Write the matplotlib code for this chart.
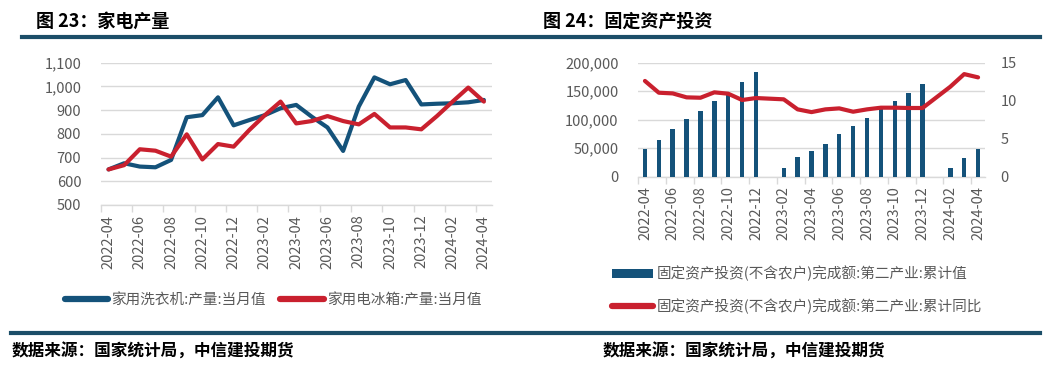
import numpy as np
import matplotlib
matplotlib.use("Agg")
import matplotlib.pyplot as plt
from matplotlib.lines import Line2D
from matplotlib.patches import Patch

plt.rcParams['font.family'] = ['Noto Sans CJK SC', 'DejaVu Sans']

# ---------------- data ----------------
months = ["2022-04", "2022-05", "2022-06", "2022-07", "2022-08", "2022-09", "2022-10",
          "2022-11", "2022-12", "2023-01", "2023-02", "2023-03", "2023-04", "2023-05",
          "2023-06", "2023-07", "2023-08", "2023-09", "2023-10", "2023-11", "2023-12",
          "2024-01", "2024-02", "2024-03", "2024-04"]

washer = [650, 676, 662, 659, 690, 870, 879, 954, 836, 858, 879, 908, 922, 872,
          827, 728, 915, 1038, 1009, 1027, 924, 927, 929, 933, 943]
fridge = [650, 668, 735, 729, 704, 798, 692, 757, 746, 816, 879, 936, 844, 854,
          875, 854, 840, 884, 827, 827, 819, 875, 936, 995, 936]

invest = [48000, 64300, 84200, 101200, 115800, 132200, 143300, 165500, 183600, np.nan,
          15800, 33900, 45000, 57900, 74300, 88900, 102300, 118100, 132200, 147400,
          162000, np.nan, 15800, 32700, 48000]
invest_yoy = [12.6, 11.05, 10.96, 10.44, 10.39, 11.1, 10.92, 10.09, 10.35, np.nan,
              10.18, 8.86, 8.5, 8.86, 8.99, 8.55, 8.86, 9.08, 9.08, 9.04, 9.04, np.nan,
              11.84, 13.5, 13.07]

left_title = "图 23：家电产量"
right_title = "图 24：固定资产投资"
source = "数据来源：国家统计局，中信建投期货"
left_labels = ["家用洗衣机:产量:当月值", "家用电冰箱:产量:当月值"]
right_labels = ["固定资产投资(不含农户)完成额:第二产业:累计值",
                "固定资产投资(不含农户)完成额:第二产业:累计同比"]

# ---------------- style ----------------
W, H = 1046, 374
BLUE = '#14527A'
RED = '#C9202E'
DARK = '#1B4E68'
GRID = '#D9D9D9'
TXT = '#595959'
FS = 10.5

fig = plt.figure(figsize=(W / 100, H / 100), dpi=100)


def fx(px):
    return px / W


def fy(py):
    return 1 - py / H


def style_xaxis(ax, n):
    x = np.arange(n)
    ax.set_xlim(-0.5, n - 0.5)
    ax.set_xticks(x[::2])
    ax.set_xticklabels(months[::2], rotation=90, fontsize=FS, color=TXT)
    ax.set_xticks(np.arange(-0.5, n, 2), minor=True)
    ax.tick_params(axis='x', which='major', length=0, pad=7)
    ax.tick_params(axis='x', which='minor', length=5, color=GRID, width=1)
    for s in ['top', 'right', 'left']:
        ax.spines[s].set_visible(False)
    ax.spines['bottom'].set_color(GRID)
    ax.spines['bottom'].set_linewidth(1)


n = len(months)
x = np.arange(n)

# ---------------- left chart ----------------
axL = fig.add_axes([fx(100.7), fy(205), fx(391), 142.3 / H])
axL.plot(x, washer, color=BLUE, lw=3.0, solid_capstyle='round', zorder=3)
axL.plot(x, fridge, color=RED, lw=3.0, solid_capstyle='round', zorder=4)
axL.set_ylim(500, 1100)
axL.set_yticks(np.arange(500, 1101, 100))
axL.set_yticklabels([f"{v:,}" for v in range(500, 1101, 100)], fontsize=FS, color=TXT)
axL.tick_params(axis='y', length=0, pad=14)
axL.grid(axis='y', color=GRID, lw=1)
axL.set_axisbelow(True)
style_xaxis(axL, n)

handlesL = [Line2D([], [], color=BLUE, lw=4.5, solid_capstyle='round'),
            Line2D([], [], color=RED, lw=4.5, solid_capstyle='round')]
fig.legend(handlesL, left_labels, loc='center', bbox_to_anchor=(fx(273), fy(300)),
           ncol=2, frameon=False, fontsize=FS, labelcolor=TXT, handlelength=3.0,
           handletextpad=0.2, columnspacing=1.0, borderpad=0, borderaxespad=0)

# ---------------- right chart ----------------
axR = fig.add_axes([fx(638), fy(176.7), fx(347), 114 / H])
inv = np.array(invest, dtype=float)
mask = ~np.isnan(inv)
axR.bar(x[mask], inv[mask], width=0.32, color=BLUE, zorder=3)
axR.set_ylim(0, 200000)
axR.set_yticks(np.arange(0, 200001, 50000))
axR.set_yticklabels([f"{v:,}" for v in range(0, 200001, 50000)], fontsize=FS, color=TXT)
axR.tick_params(axis='y', length=0, pad=14)
axR.grid(axis='y', color=GRID, lw=1)
axR.set_axisbelow(True)
style_xaxis(axR, n)

axR2 = axR.twinx()
yoy = np.array(invest_yoy, dtype=float)
m2 = ~np.isnan(yoy)
axR2.plot(x[m2], yoy[m2], color=RED, lw=3.0, solid_capstyle='round', zorder=5)
axR2.set_ylim(0, 15)
axR2.set_yticks([0, 5, 10, 15])
axR2.set_yticklabels(['0', '5', '10', '15'], fontsize=FS, color=TXT)
axR2.tick_params(axis='y', length=0, pad=11)
for s in axR2.spines.values():
    s.set_visible(False)

handlesR = [Patch(facecolor=BLUE, edgecolor='none'),
            Line2D([], [], color=RED, lw=4.5, solid_capstyle='round')]
fig.legend(handlesR, right_labels, loc='center left', bbox_to_anchor=(fx(612), fy(290)),
           ncol=1, frameon=False, fontsize=FS, labelcolor=TXT, handlelength=2.8,
           handleheight=0.6, handletextpad=0.25, labelspacing=1.15,
           borderpad=0, borderaxespad=0)

# ---------------- titles, rules, sources ----------------
fig.text(fx(36), fy(21), left_title, fontsize=13, fontweight='bold', color='black',
         ha='left', va='center')
fig.text(fx(543), fy(21), right_title, fontsize=13, fontweight='bold', color='black',
         ha='left', va='center')
fig.add_artist(Line2D([fx(22), fx(1040)], [fy(36.5), fy(36.5)], color=DARK, lw=3,
                      transform=fig.transFigure))
fig.add_artist(Line2D([fx(11), fx(1040)], [fy(333), fy(333)], color=DARK, lw=3,
                      transform=fig.transFigure))
fig.text(fx(12), fy(352), source, fontsize=12, fontweight='bold', color='black',
         ha='left', va='center', style='italic')
fig.text(fx(603), fy(352), source, fontsize=12, fontweight='bold', color='black',
         ha='left', va='center', style='italic')

fig.savefig('out.png', dpi=100)
